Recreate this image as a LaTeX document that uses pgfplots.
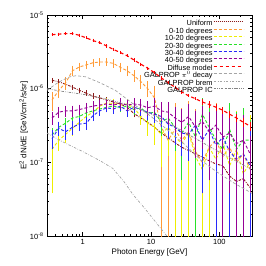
\documentclass[border=0pt]{standalone}
\usepackage{fontspec}
\setmainfont{Liberation Sans}
\usepackage{pgfplots}
\usepackage{pgfplotstable}
\pgfplotsset{compat=1.18}
\definecolor{cO}{RGB}{255,155,55}
\definecolor{cY}{RGB}{238,238,0}
\definecolor{cG}{RGB}{40,225,40}
\definecolor{cB}{RGB}{40,40,250}
\definecolor{cP}{RGB}{150,0,150}
\definecolor{cR}{RGB}{255,0,0}
\definecolor{cU}{RGB}{140,25,25}
\definecolor{cGr}{RGB}{165,165,165}

\pgfplotstableread{
x y lo hi
0.355 7.0e-7 5.2e-7 8.6e-7
0.447 9.5e-7 7.8e-7 1.12e-6
0.562 1.2e-6 1.02e-6 1.38e-6
0.708 1.75e-6 1.55e-6 1.95e-6
0.891 1.97e-6 1.8e-6 2.15e-6
1.122 2.1e-6 1.93e-6 2.27e-6
1.413 2.25e-6 2.08e-6 2.42e-6
1.778 2.3e-6 2.12e-6 2.48e-6
2.239 2.3e-6 2.12e-6 2.48e-6
2.818 2.2e-6 2.0e-6 2.4e-6
3.548 1.95e-6 1.75e-6 2.15e-6
4.467 1.75e-6 1.55e-6 1.95e-6
5.623 1.5e-6 1.3e-6 1.7e-6
7.079 1.25e-6 1.05e-6 1.45e-6
8.913 1.0e-6 8.0e-7 1.2e-6
11.22 7.5e-7 4.5e-7 1.05e-6
14.13 3.0e-7 1e-9 6.0e-7
17.78 2.0e-7 1e-9 5.0e-7
22.39 2.8e-7 1e-9 6.0e-7
28.18 2.0e-7 1e-9 5.2e-7
35.48 2.6e-7 1e-9 6.5e-7
44.67 1.4e-7 1e-9 5.0e-7
56.23 1.0e-7 1e-9 4.5e-7
70.79 1.6e-7 1e-9 5.5e-7
89.13 2.0e-7 1e-9 6.0e-7
112.2 1.2e-7 1e-9 5.0e-7
141.3 1.6e-7 1e-9 5.5e-7
177.8 1.0e-7 1e-9 4.5e-7
223.9 1.3e-7 1e-9 5.0e-7
281.8 0.8e-7 1e-9 4.0e-7
}\tabO

\pgfplotstableread{
x y lo hi
0.355 1.5e-7 4.0e-8 2.2e-7
0.447 2.0e-7 1.5e-7 2.5e-7
0.562 2.4e-7 1.9e-7 2.9e-7
0.708 2.9e-7 2.4e-7 3.4e-7
0.891 3.5e-7 3.0e-7 4.0e-7
1.122 4.2e-7 3.7e-7 4.7e-7
1.413 4.8e-7 4.3e-7 5.3e-7
1.778 5.8e-7 5.2e-7 6.4e-7
2.239 6.4e-7 5.8e-7 7.0e-7
2.818 6.3e-7 5.7e-7 6.9e-7
3.548 6.0e-7 5.4e-7 6.6e-7
4.467 6.2e-7 5.5e-7 6.9e-7
5.623 5.5e-7 4.8e-7 6.2e-7
7.079 4.2e-7 3.4e-7 5.0e-7
8.913 3.4e-7 2.4e-7 4.4e-7
11.22 3.0e-7 1.8e-7 4.2e-7
14.13 2.4e-7 9e-8 3.9e-7
17.78 3.0e-7 1.3e-7 4.7e-7
22.39 2.2e-7 1e-9 4.2e-7
28.18 1.8e-7 1e-9 4.0e-7
35.48 2.5e-7 1e-9 5.0e-7
44.67 1.2e-7 1e-9 3.8e-7
56.23 0.8e-7 1e-9 3.5e-7
70.79 1.6e-7 1e-9 4.5e-7
89.13 1.1e-7 1e-9 4.0e-7
112.2 1.8e-7 1e-9 5.0e-7
141.3 0.9e-7 1e-9 4.0e-7
177.8 1.5e-7 1e-9 4.8e-7
223.9 0.7e-7 1e-9 3.8e-7
281.8 1.0e-7 1e-9 4.2e-7
}\tabY

\pgfplotstableread{
x y lo hi
0.355 2.35e-7 1.95e-7 2.75e-7
0.447 3.0e-7 2.6e-7 3.4e-7
0.562 3.4e-7 3.0e-7 3.8e-7
0.708 4.0e-7 3.6e-7 4.4e-7
0.891 4.2e-7 3.8e-7 4.6e-7
1.122 4.7e-7 4.3e-7 5.1e-7
1.413 5.0e-7 4.6e-7 5.4e-7
1.778 5.3e-7 4.8e-7 5.8e-7
2.239 5.6e-7 5.1e-7 6.1e-7
2.818 5.8e-7 5.3e-7 6.3e-7
3.548 5.5e-7 5.0e-7 6.0e-7
4.467 5.8e-7 5.2e-7 6.4e-7
5.623 5.2e-7 4.6e-7 5.8e-7
7.079 5.5e-7 4.8e-7 6.2e-7
8.913 4.6e-7 3.8e-7 5.4e-7
11.22 4.8e-7 3.9e-7 5.7e-7
14.13 3.5e-7 2.4e-7 4.6e-7
17.78 4.0e-7 2.7e-7 5.3e-7
22.39 3.0e-7 1.5e-7 4.5e-7
28.18 2.5e-7 6e-8 4.4e-7
35.48 3.5e-7 1.5e-7 5.5e-7
44.67 2.2e-7 1e-9 4.6e-7
56.23 4.5e-7 2.0e-7 7.0e-7
70.79 3.0e-7 6e-8 5.6e-7
89.13 2.0e-7 1e-9 4.8e-7
112.2 1.5e-7 1e-9 4.5e-7
141.3 2.8e-7 1e-9 6.0e-7
177.8 1.5e-7 1e-9 4.6e-7
223.9 2.0e-7 1e-9 5.2e-7
281.8 2.0e-7 6e-8 3.6e-7
}\tabG

\pgfplotstableread{
x y lo hi
0.355 2.1e-7 1.6e-7 2.6e-7
0.447 2.9e-7 2.4e-7 3.4e-7
0.562 2.6e-7 2.1e-7 3.1e-7
0.708 3.0e-7 2.5e-7 3.5e-7
0.891 3.3e-7 2.8e-7 3.8e-7
1.122 3.4e-7 2.9e-7 3.9e-7
1.413 4.3e-7 3.8e-7 4.8e-7
1.778 5.0e-7 4.5e-7 5.5e-7
2.239 5.5e-7 5.0e-7 6.0e-7
2.818 5.3e-7 4.8e-7 5.8e-7
3.548 5.8e-7 5.2e-7 6.4e-7
4.467 5.0e-7 4.4e-7 5.6e-7
5.623 5.6e-7 4.9e-7 6.3e-7
7.079 5.2e-7 4.5e-7 5.9e-7
8.913 4.8e-7 4.0e-7 5.6e-7
11.22 4.5e-7 3.6e-7 5.4e-7
14.13 4.2e-7 3.2e-7 5.2e-7
17.78 3.3e-7 2.2e-7 4.4e-7
22.39 3.0e-7 1.8e-7 4.2e-7
28.18 2.5e-7 1.3e-7 3.7e-7
35.48 2.4e-7 1.1e-7 3.7e-7
44.67 3.2e-7 1.6e-7 4.8e-7
56.23 2.0e-7 4e-8 3.6e-7
70.79 2.8e-7 1.0e-7 4.6e-7
89.13 1.7e-7 1e-9 3.6e-7
112.2 2.2e-7 4e-8 4.0e-7
141.3 1.4e-7 1e-9 3.2e-7
177.8 1.1e-7 1e-9 3.0e-7
223.9 1.3e-7 1e-9 3.2e-7
281.8 0.9e-7 1e-9 2.6e-7
}\tabB

\pgfplotstableread{
x y lo hi
0.355 4.0e-7 3.4e-7 4.6e-7
0.447 4.8e-7 4.2e-7 5.4e-7
0.562 5.0e-7 4.4e-7 5.6e-7
0.708 5.0e-7 4.4e-7 5.6e-7
0.891 5.2e-7 4.6e-7 5.8e-7
1.122 5.5e-7 4.9e-7 6.1e-7
1.413 5.8e-7 5.2e-7 6.4e-7
1.778 6.0e-7 5.4e-7 6.6e-7
2.239 6.2e-7 5.6e-7 6.8e-7
2.818 6.0e-7 5.4e-7 6.6e-7
3.548 6.3e-7 5.6e-7 7.0e-7
4.467 6.0e-7 5.3e-7 6.7e-7
5.623 6.2e-7 5.4e-7 7.0e-7
7.079 6.0e-7 5.1e-7 6.9e-7
8.913 5.5e-7 4.5e-7 6.5e-7
11.22 5.8e-7 4.6e-7 7.0e-7
14.13 5.0e-7 3.8e-7 6.2e-7
17.78 4.8e-7 3.4e-7 6.2e-7
22.39 4.0e-7 2.6e-7 5.4e-7
28.18 3.5e-7 2.0e-7 5.0e-7
35.48 4.2e-7 2.5e-7 5.9e-7
44.67 3.0e-7 1.2e-7 4.8e-7
56.23 3.6e-7 1.6e-7 5.6e-7
70.79 2.6e-7 6e-8 4.6e-7
89.13 3.2e-7 1.0e-7 5.4e-7
112.2 2.2e-7 1e-9 4.4e-7
141.3 2.5e-7 4e-8 4.6e-7
177.8 1.8e-7 1e-9 4.0e-7
223.9 2.0e-7 1e-9 4.2e-7
281.8 1.3e-7 4e-8 2.2e-7
}\tabP

\pgfplotstableread{
x y lo hi
0.355 1.30e-6 1.27e-6 1.33e-6
0.447 1.24e-6 1.21e-6 1.27e-6
0.562 1.15e-6 1.12e-6 1.18e-6
0.708 1.05e-6 1.02e-6 1.08e-6
0.891 9.5e-7 9.2e-7 9.8e-7
1.122 8.7e-7 8.4e-7 9.0e-7
1.413 7.9e-7 7.6e-7 8.2e-7
1.778 7.5e-7 7.2e-7 7.8e-7
2.239 7.0e-7 6.7e-7 7.3e-7
2.818 6.6e-7 6.3e-7 6.9e-7
3.548 6.2e-7 5.9e-7 6.5e-7
4.467 5.6e-7 5.3e-7 5.9e-7
5.623 4.6e-7 4.3e-7 4.9e-7
7.079 4.0e-7 3.7e-7 4.3e-7
8.913 3.5e-7 3.2e-7 3.8e-7
11.22 3.0e-7 2.7e-7 3.3e-7
14.13 2.5e-7 2.2e-7 2.8e-7
17.78 2.15e-7 1.9e-7 2.4e-7
22.39 1.85e-7 1.6e-7 2.1e-7
28.18 1.6e-7 1.35e-7 1.85e-7
35.48 1.45e-7 1.2e-7 1.7e-7
44.67 1.3e-7 1.05e-7 1.55e-7
56.23 1.18e-7 9.3e-8 1.43e-7
70.79 1.05e-7 8.0e-8 1.3e-7
89.13 9.5e-8 7.0e-8 1.2e-7
112.2 9.0e-8 6.5e-8 1.15e-7
141.3 6.5e-8 4.5e-8 8.5e-8
177.8 5.5e-8 3.5e-8 7.5e-8
223.9 6.0e-8 3.8e-8 8.2e-8
281.8 4.5e-8 2.8e-8 6.2e-8
}\tabU

\pgfplotstableread{
x y lo hi
0.355 5.4e-6 5.4e-6 5.4e-6
0.447 5.5e-6 5.5e-6 5.5e-6
0.562 5.6e-6 5.6e-6 5.6e-6
0.708 5.6e-6 5.6e-6 5.6e-6
0.891 5.3e-6 5.3e-6 5.3e-6
1.122 4.9e-6 4.9e-6 4.9e-6
1.413 4.5e-6 4.5e-6 4.5e-6
1.778 4.2e-6 4.2e-6 4.2e-6
2.239 3.8e-6 3.8e-6 3.8e-6
2.818 3.4e-6 3.4e-6 3.4e-6
3.548 3.1e-6 3.1e-6 3.1e-6
4.467 2.8e-6 2.8e-6 2.8e-6
5.623 2.45e-6 2.45e-6 2.45e-6
7.079 2.15e-6 2.15e-6 2.15e-6
8.913 1.9e-6 1.9e-6 1.9e-6
11.22 1.65e-6 1.65e-6 1.65e-6
14.13 1.4e-6 1.4e-6 1.4e-6
17.78 1.2e-6 1.2e-6 1.2e-6
22.39 1.05e-6 1.05e-6 1.05e-6
28.18 9.0e-7 9.0e-7 9.0e-7
35.48 8.0e-7 8.0e-7 8.0e-7
44.67 7.3e-7 7.3e-7 7.3e-7
56.23 6.6e-7 6.3e-7 6.9e-7
70.79 6.1e-7 5.8e-7 6.4e-7
89.13 5.6e-7 5.3e-7 5.9e-7
112.2 5.1e-7 4.8e-7 5.4e-7
141.3 4.5e-7 4.2e-7 4.8e-7
177.8 4.0e-7 3.7e-7 4.3e-7
223.9 3.5e-7 3.2e-7 3.8e-7
281.8 3.1e-7 2.8e-7 3.4e-7
}\tabD

\pgfplotsset{
  eb/.style={
    error bars/y dir=both,
    error bars/y explicit,
    error bars/error bar style={solid, line width=0.7pt},
    error bars/error mark options={solid, line width=0.7pt, mark size=1.6pt}
  },
  dat/.style={line width=0.9pt, dash pattern=on 3pt off 2pt, mark=none},
  /pgfplots/table/ebt/.style={x=x, y=y,
    y error plus expr={\thisrow{hi}-\thisrow{y}},
    y error minus expr={\thisrow{y}-\thisrow{lo}}},
  uS/.style={color=cU, line width=0.9pt, dash pattern=on 2.5pt off 1.2pt on 0.8pt off 1.2pt},
  rS/.style={color=cR, line width=1.1pt, dash pattern=on 3.5pt off 2.5pt},
  piS/.style={color=cGr, line width=0.7pt, dash pattern=on 3pt off 2pt},
  brS/.style={color=cGr, line width=0.7pt, dash pattern=on 2.5pt off 1.5pt on 0.6pt off 1.5pt},
  icS/.style={color=cGr!80!black, line width=0.7pt, dash pattern=on 2.5pt off 1.2pt on 0.6pt off 1.2pt on 0.6pt off 1.2pt},
}

\begin{document}
\begin{tikzpicture}
\useasboundingbox (-47pt,-30pt) rectangle (219pt,236pt);
\begin{axis}[
  at={(0,0)}, anchor=south west,
  scale only axis, width=205pt, height=221pt,
  xmode=log, ymode=log,
  xmin=0.3, xmax=300, ymin=1e-8, ymax=1e-5,
  xtick={1,10,100}, xticklabels={1,10,100},
  minor xtick={0.3,0.4,0.5,0.6,0.7,0.8,0.9,2,3,4,5,6,7,8,9,20,30,40,50,60,70,80,90,200,300},
  ytick={1e-8,1e-7,1e-6,1e-5},
  yticklabels={10\textsuperscript{-8},10\textsuperscript{-7},10\textsuperscript{-6},10\textsuperscript{-5}},
  minor ytick={2e-8,3e-8,4e-8,5e-8,6e-8,7e-8,8e-8,9e-8,2e-7,3e-7,4e-7,5e-7,6e-7,7e-7,8e-7,9e-7,2e-6,3e-6,4e-6,5e-6,6e-6,7e-6,8e-6,9e-6},
  tick align=inside, major tick length=4pt, minor tick length=2pt,
  axis line style={line width=0.7pt}, tick style={line width=0.5pt, black},
  tick label style={font=\fontsize{7.5}{8}\selectfont},
  xlabel={Photon Energy [GeV]},
  ylabel={E\textsuperscript{2} dN/dE [GeV/cm\textsuperscript{2}/s/sr]},
  label style={font=\fontsize{8}{9}\selectfont},
  xlabel style={yshift=3pt},
  ylabel style={yshift=-5pt},
  legend style={draw=none, fill=none, at={(0.965,0.98)}, anchor=north east,
    font=\fontsize{7.4}{7.6}\selectfont, row sep=0pt, inner sep=0.5pt,
    nodes={inner sep=0.4pt, text height=5.3pt, text depth=1.3pt}},
  legend cell align=right,
  legend plot pos=right,
  legend image code/.code={\draw[#1] (0pt,2pt) -- (30pt,2pt);},
]
\addplot[uS, mark=none, eb, forget plot] table[ebt] {\tabU};
\addplot[color=cO, dat, eb, forget plot] table[ebt] {\tabO};
\addplot[color=cY, dat, eb, forget plot] table[ebt] {\tabY};
\addplot[color=cG, dat, eb, forget plot] table[ebt] {\tabG};
\addplot[color=cB, dat, eb, forget plot] table[ebt] {\tabB};
\addplot[color=cP, dat, eb, forget plot] table[ebt] {\tabP};
\addplot[rS, mark=none, eb, forget plot] table[ebt] {\tabD};
\addplot[piS, mark=none, forget plot] coordinates {
(0.3,9.5e-7) (0.4,1.15e-6) (0.5,1.3e-6) (0.65,1.45e-6) (0.8,1.5e-6) (1.1,1.45e-6) (1.8,1.2e-6) (3,9.5e-7) (5.5,6.2e-7) (10,4.2e-7) (17.5,2.75e-7) (30,1.8e-7) (53,1.08e-7) (90,7.5e-8) (160,5.3e-8) (300,3.8e-8)};
\addplot[brS, mark=none, forget plot] coordinates {
(0.3,2.5e-7) (0.48,1.95e-7) (1.0,1.4e-7) (1.8,1.05e-7) (2.74,8.3e-8) (4,5.5e-8) (5.5,3.6e-8) (8,2.4e-8) (12,1.5e-8) (17,1e-8) (25,6e-9)};
\addplot[icS, mark=none, forget plot] coordinates {
(0.3,1.0e-6) (0.5,9.2e-7) (1,8.4e-7) (2,7.4e-7) (4,6.3e-7) (8,5.0e-7) (15,3.8e-7) (30,2.6e-7) (60,1.8e-7) (120,1.25e-7) (300,8e-8)};
\addlegendimage{color=cU, line width=0.7pt, dash pattern=on 1pt off 1pt}
\addlegendentry{Uniform}
\addlegendimage{color=cO, dat}
\addlegendentry{0-10 degrees}
\addlegendimage{color=cY, dat}
\addlegendentry{10-20 degrees}
\addlegendimage{color=cG, dat}
\addlegendentry{20-30 degrees}
\addlegendimage{color=cB, dat}
\addlegendentry{30-40 degrees}
\addlegendimage{color=cP, dat}
\addlegendentry{40-50 degrees}
\addlegendimage{rS}
\addlegendentry{Diffuse model}
\addlegendimage{piS}
\addlegendentry{GALPROP $\pi^0$ decay}
\addlegendimage{brS}
\addlegendentry{GALPROP brem}
\addlegendimage{icS}
\addlegendentry{GALPROP IC}
\end{axis}
\end{tikzpicture}
\end{document}
